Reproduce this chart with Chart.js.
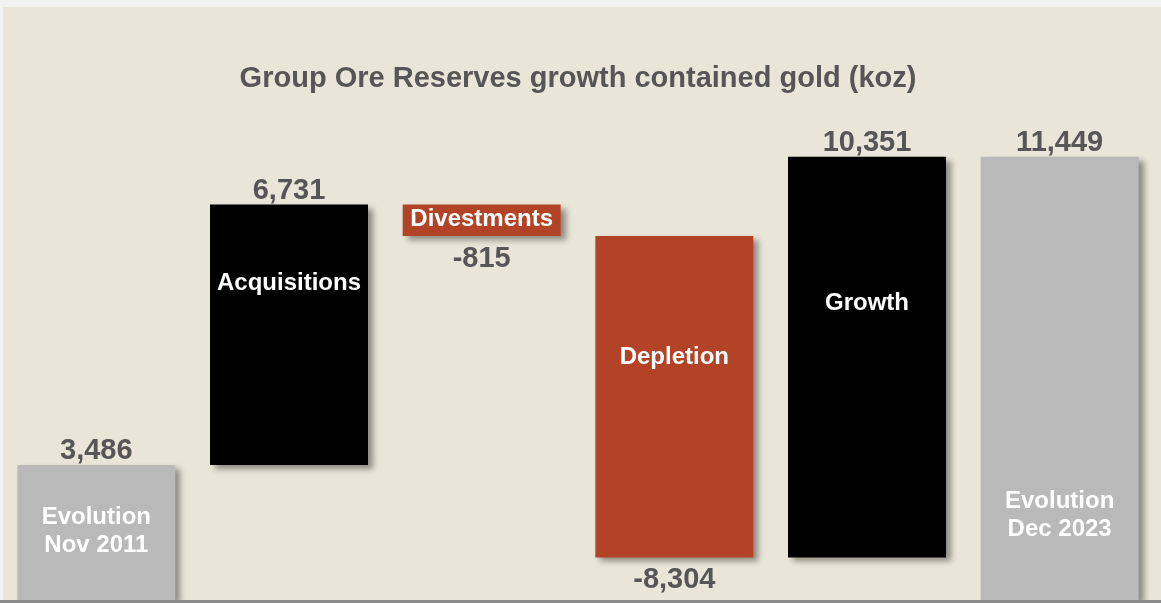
<!DOCTYPE html>
<html>
<head>
<meta charset="utf-8">
<script src="https://cdn.jsdelivr.net/npm/chart.js@4/dist/chart.umd.min.js"></script>
<style>
  html, body { margin: 0; padding: 0; background: #f2f2f2; }
  #wrap { width: 1161px; height: 603px; }
</style>
</head>
<body>
<div id="wrap"><canvas id="grafico" width="1161" height="603"></canvas></div>
<script>
// dados (koz)
const categorias = [['Evolution', 'Nov 2011'], ['Acquisitions'], ['Divestments'], ['Depletion'], ['Growth'], ['Evolution', 'Dec 2023']];
const valores = [3486, 6731, -815, -8304, 10351, 11449];
const totais = [true, false, false, false, false, true];
const cores = ['#b9b9b9', '#000000', '#b34326', '#b34326', '#000000', '#b9b9b9'];

// posição do texto dentro da barra (fração da altura, a partir do topo)
const posTexto = [0.48, 0.295, 0.4, 0.37, 0.36, 0.804];

// monta as barras flutuantes da cascata
const barras = [];
let acumulado = 0;
for (let i = 0; i < valores.length; i++) {
  if (totais[i]) {
    barras.push([0, valores[i]]);
    acumulado = valores[i];
  } else {
    barras.push([acumulado, acumulado + valores[i]]);
    acumulado += valores[i];
  }
}

const fundo = {
  id: 'fundo',
  beforeDraw(chart) {
    const c = chart.ctx;
    c.save();
    c.fillStyle = '#f2f2f2';
    c.fillRect(0, 0, chart.width, chart.height);
    c.fillStyle = '#e9e5d8';
    c.fillRect(3, 7, chart.width - 3, 593);
    c.restore();
  },
  afterDraw(chart) {
    const c = chart.ctx;
    c.save();
    c.fillStyle = '#8a8a8a';
    c.fillRect(0, 600, chart.width, 3);
    c.restore();
  }
};

const sombra = {
  id: 'sombra',
  beforeDatasetDraw(chart) {
    const c = chart.ctx;
    c.save();
    c.shadowColor = 'rgba(0, 0, 0, 0.4)';
    c.shadowBlur = 6;
    c.shadowOffsetX = 5;
    c.shadowOffsetY = 4;
  },
  afterDatasetDraw(chart) {
    chart.ctx.restore();
  }
};

const rotulos = {
  id: 'rotulos',
  afterDatasetsDraw(chart) {
    const c = chart.ctx;
    const meta = chart.getDatasetMeta(0);
    c.save();
    c.textAlign = 'center';
    c.textBaseline = 'middle';
    meta.data.forEach((el, i) => {
      const topo = Math.min(el.y, el.base);
      const fundoBarra = Math.max(el.y, el.base);
      // valor
      c.font = 'bold 29px "Liberation Sans", Arial, sans-serif';
      c.fillStyle = '#565656';
      const texto = valores[i].toLocaleString('en-US');
      if (valores[i] < 0) {
        c.fillText(texto, el.x, fundoBarra + 23);
      } else {
        c.fillText(texto, el.x, topo - 14);
      }
      // nome dentro da barra
      c.font = 'bold 24px "Liberation Sans", Arial, sans-serif';
      c.fillStyle = '#ffffff';
      const linhas = categorias[i];
      const centro = topo + posTexto[i] * (fundoBarra - topo) + 2;
      const alturaLinha = 28;
      linhas.forEach((l, j) => {
        const y = centro + (j - (linhas.length - 1) / 2) * alturaLinha;
        c.fillText(l, el.x, y);
      });
    });
    c.restore();
  }
};

const ctx = document.getElementById('grafico').getContext('2d');
const grafico = new Chart(ctx, {
  type: 'bar',
  data: {
    labels: categorias.map(c => c.join(' ')),
    datasets: [{
      data: barras,
      backgroundColor: cores,
      borderWidth: 0,
      borderSkipped: false,
      categoryPercentage: 1,
      barPercentage: 0.82
    }]
  },
  options: {
    responsive: false,
    animation: false,
    layout: { padding: { left: 0, right: 5, top: 0, bottom: 3 } },
    plugins: {
      legend: { display: false },
      tooltip: { enabled: false },
      title: {
        display: true,
        text: 'Group Ore Reserves growth contained gold (koz)',
        color: '#565656',
        font: { family: '"Liberation Sans", Arial, sans-serif', size: 29, weight: 'bold' },
        padding: { top: 62, bottom: 0 }
      }
    },
    scales: {
      x: { display: false },
      y: { display: false, min: 0, max: 13000 }
    }
  },
  plugins: [fundo, sombra, rotulos]
});
</script>
</body>
</html>
